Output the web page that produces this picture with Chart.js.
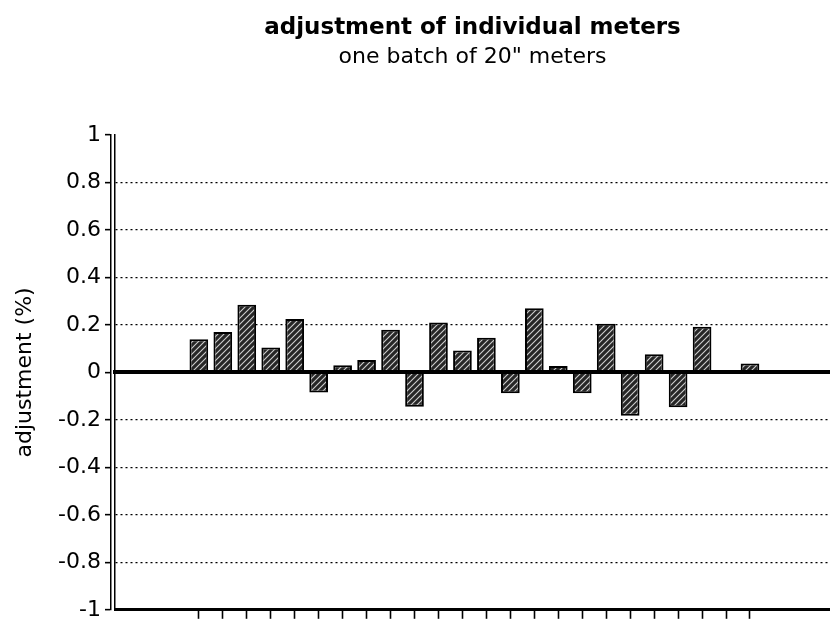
<!DOCTYPE html>
<html>
<head>
<meta charset="utf-8">
<title>adjustment of individual meters</title>
<script src="https://cdn.jsdelivr.net/npm/chart.js@4/dist/chart.umd.min.js"></script>
<style>
  html, body { margin: 0; padding: 0; background: #ffffff; }
  #wrap { width: 830px; height: 627px; }
</style>
</head>
<body>
<div id="wrap"><canvas id="chart" width="830" height="627"></canvas></div>
<script>
// Slot number of each meter in the batch run
const meters = [1, 2, 3, 4, 5, 6, 7, 8, 9, 10, 11, 12, 13, 14, 15, 16, 17, 18, 19, 20, 21, 22, 23, 24];
// Adjustment applied to each meter (%)
const adjustments = [0.14, 0.17, 0.285, 0.105, 0.225, -0.085, 0.03, 0.052, 0.18, -0.145, 0.21, 0.092,
                     0.146, -0.088, 0.27, 0.027, -0.088, 0.205, -0.183, 0.076, -0.147, 0.192, 0, 0.038];
// Value-axis labels, bottom to top
const yTickLabels = ['-1', '-0.8', '-0.6', '-0.4', '-0.2', '0', '0.2', '0.4', '0.6', '0.8', '1'];

const FONT = "'DejaVu Sans', 'Liberation Sans', sans-serif";
Chart.defaults.font.family = FONT;
Chart.defaults.color = '#000';

// Dark diagonal hatch used for every bar
function hatchPattern() {
  const s = 6;
  const c = document.createElement('canvas');
  c.width = s; c.height = s;
  const g = c.getContext('2d');
  g.fillStyle = '#262626';
  g.fillRect(0, 0, s, s);
  g.strokeStyle = '#cfcfcf';
  g.lineWidth = 1.1;
  g.beginPath();
  g.moveTo(0, s); g.lineTo(s, 0);
  g.moveTo(-1, 1); g.lineTo(1, -1);
  g.moveTo(s - 1, s + 1); g.lineTo(s + 1, s - 1);
  g.stroke();
  return g.createPattern(c, 'repeat');
}

// Category boundaries between neighbouring meters carry the tick marks
const boundaries = meters.slice(1).map(m => m - 0.5);
const xMin = meters[0] - 2.85;
const xMax = meters[meters.length - 1] + 2.69;

const ctx = document.getElementById('chart').getContext('2d');
new Chart(ctx, {
  type: 'bar',
  data: {
    datasets: [{
      label: 'adjustment',
      data: meters.map((m, i) => ({ x: m, y: adjustments[i] })),
      backgroundColor: hatchPattern(),
      borderColor: '#000',
      borderWidth: 2,
      borderSkipped: 'start',
      barPercentage: 0.78,
      categoryPercentage: 1.0,
      xAxisID: 'x',
      yAxisID: 'y'
    }]
  },
  options: {
    responsive: false,
    devicePixelRatio: 1,
    animation: false,
    layout: { padding: { top: 0, left: 0, right: 0, bottom: 0 } },
    plugins: {
      legend: { display: false },
      tooltip: { enabled: false },
      title: {
        display: true,
        text: 'adjustment of individual meters',
        fullSize: false,
        color: '#000',
        font: { family: FONT, size: 23, weight: 'bold' },
        padding: { top: 14, bottom: 0 }
      },
      subtitle: {
        display: true,
        text: 'one batch of 20" meters',
        fullSize: false,
        color: '#000',
        font: { family: FONT, size: 22, weight: 'normal' },
        padding: { top: 2, bottom: 65 }
      }
    },
    scales: {
      x: {
        type: 'linear',
        position: 'bottom',
        min: xMin,
        max: xMax,
        afterBuildTicks: (scale) => { scale.ticks = boundaries.map(v => ({ value: v })); },
        afterFit: (scale) => { scale.height = 13; },
        ticks: { display: false },
        grid: {
          display: true,
          drawOnChartArea: false,
          drawTicks: true,
          tickLength: 9,
          tickWidth: 1.6,
          tickColor: '#000'
        },
        border: { display: true, width: 3, color: '#000' }
      },
      // zero line across the plot
      x0: {
        type: 'linear',
        axis: 'x',
        position: { y: 0 },
        min: xMin,
        max: xMax,
        ticks: { display: false },
        grid: { display: true, drawOnChartArea: false, drawTicks: false },
        border: { display: true, width: 4, color: '#000', z: 1 }
      },
      // inner value axis (holds the bars), drawn as the inner line of the double axis
      y: {
        type: 'linear',
        position: 'left',
        weight: 0,
        min: -1,
        max: 1,
        afterFit: (scale) => { scale.width = 4; },
        ticks: { display: false, stepSize: 0.2 },
        grid: { display: true, drawOnChartArea: false, drawTicks: false },
        border: { display: true, width: 1.5, color: '#000' }
      },
      // outer value axis with labels, tick marks and dotted grid lines
      y2: {
        type: 'linear',
        position: 'left',
        weight: 1,
        min: -1,
        max: 1,
        afterFit: (scale) => { scale.width = 111; },
        ticks: {
          stepSize: 0.2,
          padding: 4,
          color: '#000',
          font: { family: FONT, size: 22 },
          callback: (value, index) => yTickLabels[index]
        },
        grid: {
          display: true,
          drawOnChartArea: true,
          lineWidth: 1.3,
          color: (c) => {
            const v = c.tick ? c.tick.value : 0;
            return (Math.abs(v) < 1e-9 || Math.abs(Math.abs(v) - 1) < 1e-9) ? 'rgba(0,0,0,0)' : '#000';
          },
          drawTicks: true,
          tickLength: 6,
          tickWidth: 1.6,
          tickColor: '#000'
        },
        border: { display: true, width: 1.5, color: '#000', dash: [2, 3] },
        title: {
          display: true,
          text: 'adjustment (%)',
          color: '#000',
          font: { family: FONT, size: 22 },
          padding: { top: 12, bottom: 0 }
        }
      }
    }
  }
});
</script>
</body>
</html>
